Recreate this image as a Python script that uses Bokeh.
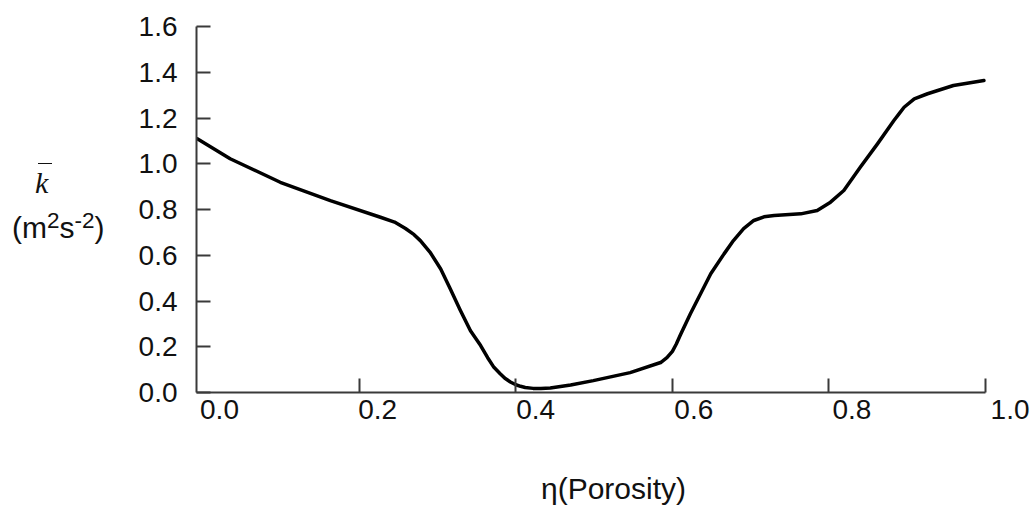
from bokeh.plotting import figure
from bokeh.models import FixedTicker, Range1d, NumeralTickFormatter, LinearAxis, Div
from bokeh.layouts import row
from bokeh.embed import file_html
from bokeh.resources import INLINE

# Curve data
porosity = [-0.007, 0.035, 0.099, 0.163, 0.227, 0.245, 0.259, 0.27, 0.278, 0.291,
            0.304, 0.316, 0.329, 0.342, 0.355, 0.364, 0.372, 0.38, 0.386, 0.393,
            0.40, 0.406, 0.412, 0.422, 0.432, 0.444, 0.47, 0.499, 0.546, 0.585,
            0.593, 0.60, 0.605, 0.61, 0.623, 0.649, 0.666, 0.678, 0.691, 0.704,
            0.717, 0.73, 0.764, 0.785, 0.802, 0.819, 0.84, 0.862, 0.883, 0.89,
            0.896, 0.909, 0.926, 0.959, 0.998]
k_mean = [1.109, 1.022, 0.919, 0.839, 0.766, 0.745, 0.717, 0.69, 0.664, 0.61,
          0.54, 0.455, 0.36, 0.27, 0.205, 0.152, 0.11, 0.082, 0.062, 0.046,
          0.034, 0.027, 0.022, 0.018, 0.017, 0.02, 0.033, 0.052, 0.087, 0.131,
          0.152, 0.18, 0.212, 0.25, 0.344, 0.519, 0.606, 0.664, 0.716, 0.752,
          0.768, 0.774, 0.781, 0.796, 0.832, 0.883, 0.985, 1.087, 1.189, 1.22,
          1.247, 1.284, 1.306, 1.342, 1.364]

x_tick_values = [0.2, 0.4, 0.6, 0.8, 1.0]
x_label_values = [0.0, 0.2, 0.4, 0.6, 0.8, 1.0]
y_tick_values = [0.0, 0.2, 0.4, 0.6, 0.8, 1.0, 1.2, 1.4, 1.6]

FONT = "Liberation Sans"
FS = "28px"
AXIS_COLOR = "#3a3a3a"
TEXT_COLOR = "#111111"

LEFT_W = 120          # width of the y-title column
FIG_W = 1033 - LEFT_W
FIG_H = 510

X0, X_END = -0.008, 1.0575     # frame runs a little past 1.0 so the "1.0" label fits
LAB0, LAB1 = -0.0291, 1.0259   # range for the label axis (labels sit right of ticks)

p = figure(width=FIG_W, height=FIG_H, output_backend="svg", toolbar_location=None,
           x_range=Range1d(X0, X_END), y_range=Range1d(0.0, 1.6),
           min_border_left=196 - LEFT_W, min_border_right=3, min_border_top=26,
           min_border_bottom=FIG_H - 392)
p.outline_line_color = None
p.xgrid.visible = False
p.ygrid.visible = False
p.background_fill_color = "white"
p.border_fill_color = "white"
p.extra_x_ranges = {"lab": Range1d(LAB0, LAB1)}

p.line(porosity, k_mean, line_color="black", line_width=3.5,
       line_join="round", line_cap="round")

# primary x axis: line and ticks only, ending at 1.0
xa = p.xaxis[0]
xa.bounds = (X0, 1.0)
xa.ticker = FixedTicker(ticks=x_tick_values)
xa.major_label_text_color = None
xa.major_label_text_font_size = "0px"
xa.major_label_standoff = 0
xa.minor_tick_line_color = None
xa.major_tick_in = 14
xa.major_tick_out = 0
xa.axis_line_color = AXIS_COLOR
xa.axis_line_width = 2
xa.major_tick_line_color = AXIS_COLOR
xa.major_tick_line_width = 2

# second x axis carrying the tick labels and the axis title
xl = LinearAxis(x_range_name="lab", ticker=FixedTicker(ticks=x_label_values),
                formatter=NumeralTickFormatter(format="0.0"))
xl.axis_line_color = None
xl.major_tick_line_color = None
xl.minor_tick_line_color = None
xl.major_tick_in = 0
xl.major_tick_out = 0
xl.major_label_standoff = 7
xl.major_label_text_font = FONT
xl.major_label_text_font_size = FS
xl.major_label_text_color = TEXT_COLOR
xl.axis_label = "η(Porosity)"
xl.axis_label_standoff = 50
xl.axis_label_text_font = FONT
xl.axis_label_text_font_size = "30px"
xl.axis_label_text_font_style = "normal"
xl.axis_label_text_color = TEXT_COLOR
p.add_layout(xl, "below")

ya = p.yaxis[0]
ya.ticker = FixedTicker(ticks=y_tick_values)
ya.formatter = NumeralTickFormatter(format="0.0")
ya.minor_tick_line_color = None
ya.major_tick_in = 14
ya.major_tick_out = 0
ya.axis_line_color = AXIS_COLOR
ya.axis_line_width = 2
ya.major_tick_line_color = AXIS_COLOR
ya.major_tick_line_width = 2
ya.major_label_standoff = 19
ya.major_label_text_font = FONT
ya.major_label_text_font_size = FS
ya.major_label_text_color = TEXT_COLOR

y_title = Div(width=LEFT_W, height=FIG_H, margin=(0, 0, 0, 0), text=(
    '<div style="position:relative;width:120px;height:510px;color:#111111;">'
    '<div style="position:absolute;left:38px;top:163px;width:14px;'
    'border-top:1.5px solid #111111;"></div>'
    '<div style="position:absolute;left:35px;top:168px;font-family:\'Liberation Serif\';'
    'font-style:italic;font-size:30px;line-height:30px;">k</div>'
    '<div style="position:absolute;left:12px;top:213px;font-family:\'Liberation Sans\';'
    'font-size:30px;line-height:30px;white-space:nowrap;">(m'
    '<span style="font-size:0.75em;vertical-align:0.45em;line-height:0;">2</span>s'
    '<span style="font-size:0.75em;vertical-align:0.45em;line-height:0;">-2</span>)</div>'
    '</div>'))

layout = row(y_title, p, spacing=0)
open("out.html", "w").write(file_html(layout, INLINE))
